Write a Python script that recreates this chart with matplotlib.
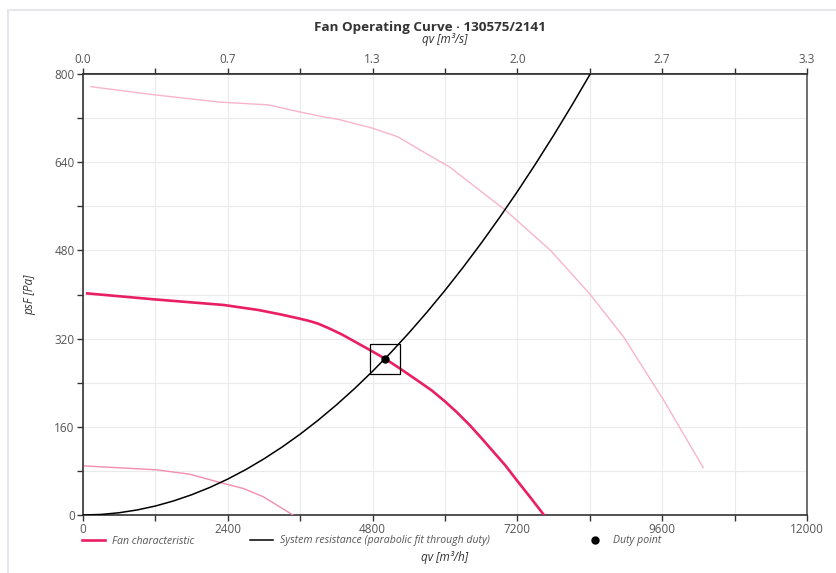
import matplotlib
matplotlib.use("Agg")
import matplotlib.pyplot as plt
from matplotlib.patches import Rectangle

plt.rcParams['font.family'] = ['Open Sans', 'DejaVu Sans']

# data
fan_q = [70, 1200, 2330, 2900, 3270, 3600, 3750, 3900, 4090, 4300, 4480, 4760, 5000, 5250, 5530,
         5780, 6000, 6200, 6410, 6600, 6800, 7000, 7190, 7400, 7640]
fan_p = [402, 391, 381, 372, 364, 356, 352, 347, 338, 327, 316, 299, 284, 266, 245,
         226, 206, 186, 163, 140, 115, 90, 63, 34, 0]

upper_q = [130, 1200, 2270, 3070, 3600, 4000, 4260, 4790, 5220, 5590, 6080, 7000, 7740, 8400, 8960, 9620, 10280]
upper_p = [777, 762, 749, 744, 731, 722, 717, 702, 686, 662, 631, 553, 481, 401, 323, 209, 86]

lower_q = [30, 1220, 1770, 2270, 2660, 2990, 3480]
lower_p = [89, 82, 74, 59, 48, 33, 0]

sys_q = [0, 300, 600, 900, 1200, 1500, 1800, 2100, 2400, 2700, 3000, 3300, 3600, 3900, 4200,
         4500, 4800, 5100, 5400, 5700, 6000, 6300, 6600, 6900, 7200, 7500, 7800, 8100, 8400]
sys_p = [0, 1.0, 4.1, 9.2, 16.3, 25.5, 36.7, 49.9, 65.2, 82.5, 101.9, 123.3, 146.7, 172.2, 199.7,
         229.2, 260.8, 294.4, 330.1, 367.8, 407.5, 449.3, 493.1, 539.0, 586.8, 636.8, 688.7, 742.7, 798.7]

duty_q = 5000
duty_p = 283

x_ticks = [0, 2400, 4800, 7200, 9600, 12000]
top_labels = ['0.0', '0.7', '1.3', '2.0', '2.7', '3.3']
y_ticks = [0, 160, 320, 480, 640, 800]

W, H = 837, 573
fig = plt.figure(figsize=(W / 100, H / 100), dpi=100)
ax = fig.add_axes([83 / W, 1 - 515 / H, (807 - 83) / W, (515 - 74) / H])

# outer frame
fig.patches.append(Rectangle((8 / W, -0.1), 1.2, 1 - 10 / H + 0.1, transform=fig.transFigure,
                             fill=False, edgecolor='#e6e6ec', linewidth=1.5))

ax.plot(upper_q, upper_p, color='#f8b4cb', lw=1.0, zorder=3)
ax.plot(lower_q, lower_p, color='#f48caf', lw=1.0, zorder=3)
l_fan, = ax.plot(fan_q, fan_p, color='#e91e63', lw=1.9, zorder=4)
l_sys, = ax.plot(sys_q, sys_p, color='black', lw=1.1, zorder=5)
l_duty, = ax.plot([duty_q], [duty_p], 'o', color='black', ms=5, zorder=6, linestyle='none')
ax.plot([duty_q], [duty_p], 's', ms=21.5, mfc='none', mec='black', mew=0.9, zorder=6)

ax.set_xlim(0, 12000)
ax.set_ylim(0, 800)
ax.set_xticks(x_ticks)
ax.set_xticks(range(0, 12001, 1200), minor=True)
ax.set_yticks(y_ticks)
ax.set_yticks(range(0, 801, 80), minor=True)
ax.grid(True, which='both', color='#ebebeb', lw=0.8, zorder=0)
ax.set_axisbelow(True)
ax.tick_params(which='both', direction='out', length=4, width=1, color='#333333',
               labelsize=8.5, labelcolor='#555555', pad=2)
ax.tick_params(axis='x', which='both', top=False)
for s in ax.spines.values():
    s.set_color('#333333')
    s.set_linewidth(1.2)
ax.spines['right'].set_color('#555555')

top = ax.secondary_xaxis('top')
top.set_xticks(x_ticks)
top.set_xticklabels(top_labels)
top.set_xticks(range(0, 12001, 1200), minor=True)
top.tick_params(which='both', direction='out', length=4, width=1, color='#333333',
                labelsize=8.5, labelcolor='#555555', pad=2)
top.spines['top'].set_color('#333333')
top.spines['top'].set_linewidth(1.2)

fig.text(430 / W, 1 - 27 / H, 'Fan Operating Curve · 130575/2141', ha='center', va='center',
         fontsize=9.7, fontweight='bold', color='#333333')
fig.text(445 / W, 1 - 39 / H, 'qv [m³/s]', ha='center', va='center', fontsize=8.5,
         style='italic', color='#333333')
fig.text(445 / W, 1 - 558 / H, 'qv [m³/h]', ha='center', va='center', fontsize=8.5,
         style='italic', color='#333333')
fig.text(30 / W, 1 - 295 / H, 'psF [Pa]', ha='center', va='center', fontsize=8.5,
         style='italic', color='#333333', rotation=90)

leg_kw = dict(frameon=False, fontsize=7.6, handlelength=2.2, handletextpad=0.6,
              borderpad=0, borderaxespad=0, loc='center left')
leg1 = fig.legend([l_fan], ['Fan characteristic'], bbox_to_anchor=(82 / W, 1 - 541 / H), **leg_kw)
leg2 = fig.legend([l_sys], ['System resistance (parabolic fit through duty)'],
                  bbox_to_anchor=(250 / W, 1 - 541 / H), **leg_kw)
leg3 = fig.legend([l_duty], ['Duty point'], bbox_to_anchor=(583 / W, 1 - 541 / H), **leg_kw)
for lg in (leg1, leg2, leg3):
    for t in lg.get_texts():
        t.set_style('italic')
        t.set_color('#555555')

fig.savefig('out.png', dpi=100)
